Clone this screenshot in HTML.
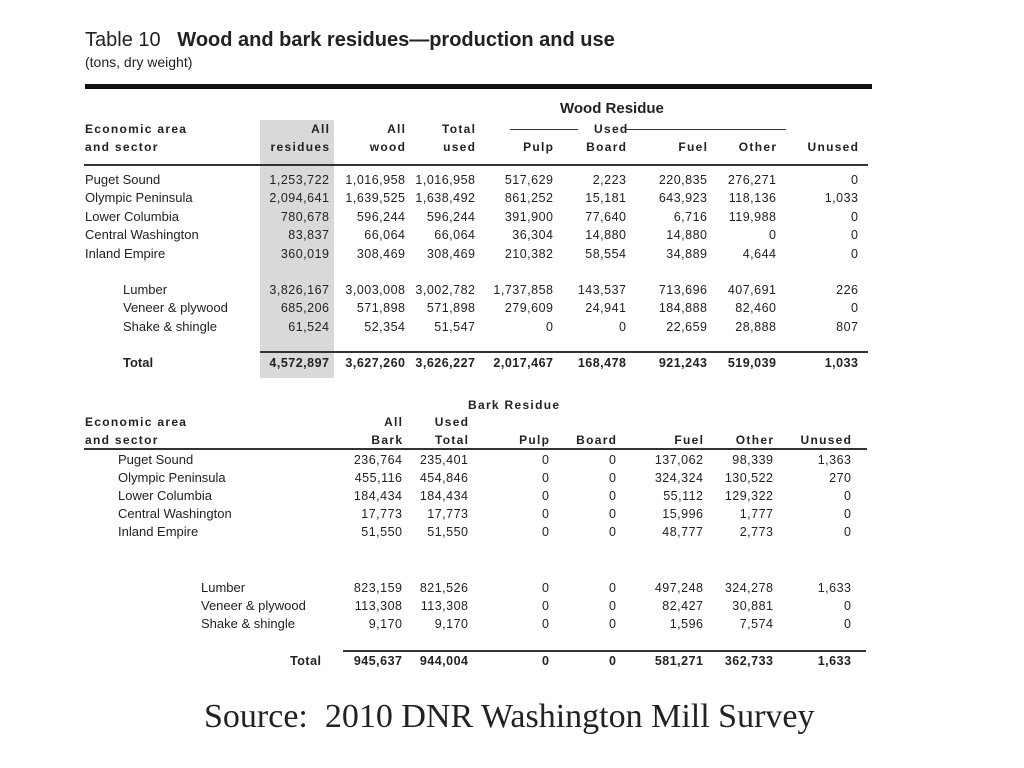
<!DOCTYPE html>
<html><head><meta charset="utf-8"><style>
body{margin:0;width:1024px;height:768px;background:#fff;position:relative;overflow:hidden;font-family:"Liberation Sans",sans-serif;color:#222}
.t{position:absolute;font-size:13px;line-height:18.4px;white-space:nowrap}
.h{position:absolute;font-size:12px;line-height:18px;white-space:nowrap;font-weight:bold;letter-spacing:1.3px}
.hr{position:absolute;font-size:12px;line-height:18px;white-space:nowrap;font-weight:bold;letter-spacing:1.3px;text-align:right;margin-right:-1.3px}
.r{position:absolute;font-size:12.5px;line-height:18.4px;white-space:nowrap;text-align:right;letter-spacing:0.5px;margin-right:-0.5px}
.b{font-weight:bold}
.ln{position:absolute;background:#333}
</style></head><body>
<div class="t" style="left:85px;top:28px;font-size:20px;line-height:24px;">Table 10 &nbsp; <b>Wood and bark residues—production and use</b></div>
<div class="t" style="left:85px;top:53px;font-size:14px;">(tons, dry weight)</div>
<div class="ln" style="left:85px;top:84px;width:787px;height:5px;background:#111"></div>
<div style="position:absolute;left:260px;top:120px;width:74px;height:258px;background:#d9d9d9"></div>
<div class="t b" style="left:560px;top:100px;font-size:15px;">Wood Residue</div>
<div class="h" style="left:85px;top:120px;">Economic area<br>and sector</div>
<div class="ln" style="left:510px;top:129px;width:68px;height:1px"></div>
<div class="h" style="left:594px;top:120px;">Used</div>
<div class="ln" style="left:626px;top:129px;width:160px;height:1px"></div>
<div class="ln" style="left:84px;top:164px;width:784px;height:2px"></div>
<div class="ln" style="left:260px;top:351px;width:608px;height:2px"></div>

<div class="hr" style="right:695px;top:120px">All<br>residues</div>
<div class="hr" style="right:619px;top:120px">All<br>wood</div>
<div class="hr" style="right:549px;top:120px">Total<br>used</div>
<div class="hr" style="right:471px;top:138px">Pulp</div>
<div class="hr" style="right:398px;top:138px">Board</div>
<div class="hr" style="right:317px;top:138px">Fuel</div>
<div class="hr" style="right:248px;top:138px">Other</div>
<div class="hr" style="right:166px;top:138px">Unused</div>

<div class="t" style="left:85px;top:171px">Puget Sound<br>Olympic Peninsula<br>Lower Columbia<br>Central Washington<br>Inland Empire</div>
<div class="t" style="left:123px;top:281px">Lumber<br>Veneer &amp; plywood<br>Shake &amp; shingle</div>
<div class="t b" style="left:123px;top:354px">Total</div>

<div class="r" style="right:695px;top:171px">1,253,722<br>2,094,641<br>780,678<br>83,837<br>360,019</div>
<div class="r" style="right:619px;top:171px">1,016,958<br>1,639,525<br>596,244<br>66,064<br>308,469</div>
<div class="r" style="right:549px;top:171px">1,016,958<br>1,638,492<br>596,244<br>66,064<br>308,469</div>
<div class="r" style="right:471px;top:171px">517,629<br>861,252<br>391,900<br>36,304<br>210,382</div>
<div class="r" style="right:398px;top:171px">2,223<br>15,181<br>77,640<br>14,880<br>58,554</div>
<div class="r" style="right:317px;top:171px">220,835<br>643,923<br>6,716<br>14,880<br>34,889</div>
<div class="r" style="right:248px;top:171px">276,271<br>118,136<br>119,988<br>0<br>4,644</div>
<div class="r" style="right:166px;top:171px">0<br>1,033<br>0<br>0<br>0</div>

<div class="r" style="right:695px;top:281px">3,826,167<br>685,206<br>61,524</div>
<div class="r" style="right:619px;top:281px">3,003,008<br>571,898<br>52,354</div>
<div class="r" style="right:549px;top:281px">3,002,782<br>571,898<br>51,547</div>
<div class="r" style="right:471px;top:281px">1,737,858<br>279,609<br>0</div>
<div class="r" style="right:398px;top:281px">143,537<br>24,941<br>0</div>
<div class="r" style="right:317px;top:281px">713,696<br>184,888<br>22,659</div>
<div class="r" style="right:248px;top:281px">407,691<br>82,460<br>28,888</div>
<div class="r" style="right:166px;top:281px">226<br>0<br>807</div>

<div class="r b" style="right:695px;top:354px">4,572,897</div>
<div class="r b" style="right:619px;top:354px">3,627,260</div>
<div class="r b" style="right:549px;top:354px">3,626,227</div>
<div class="r b" style="right:471px;top:354px">2,017,467</div>
<div class="r b" style="right:398px;top:354px">168,478</div>
<div class="r b" style="right:317px;top:354px">921,243</div>
<div class="r b" style="right:248px;top:354px">519,039</div>
<div class="r b" style="right:166px;top:354px">1,033</div>

<!-- bark -->
<div class="h" style="left:468px;top:396px;">Bark Residue</div>
<div class="h" style="left:85px;top:413px;">Economic area<br>and sector</div>
<div class="hr" style="right:622px;top:413px">All<br>Bark</div>
<div class="hr" style="right:556px;top:413px">Used<br>Total</div>
<div class="hr" style="right:475px;top:431px">Pulp</div>
<div class="hr" style="right:408px;top:431px">Board</div>
<div class="hr" style="right:321px;top:431px">Fuel</div>
<div class="hr" style="right:251px;top:431px">Other</div>
<div class="hr" style="right:173px;top:431px">Unused</div>
<div class="ln" style="left:84px;top:448px;width:783px;height:2px"></div>
<div class="ln" style="left:343px;top:650px;width:523px;height:2px"></div>

<div class="t" style="left:118px;top:451px;line-height:18px">Puget Sound<br>Olympic Peninsula<br>Lower Columbia<br>Central Washington<br>Inland Empire</div>
<div class="t" style="left:201px;top:579px;line-height:18px">Lumber<br>Veneer &amp; plywood<br>Shake &amp; shingle</div>
<div class="r b" style="right:703px;top:652px">Total</div>

<div class="r" style="right:622px;top:451px;line-height:18px">236,764<br>455,116<br>184,434<br>17,773<br>51,550</div>
<div class="r" style="right:556px;top:451px;line-height:18px">235,401<br>454,846<br>184,434<br>17,773<br>51,550</div>
<div class="r" style="right:475px;top:451px;line-height:18px">0<br>0<br>0<br>0<br>0</div>
<div class="r" style="right:408px;top:451px;line-height:18px">0<br>0<br>0<br>0<br>0</div>
<div class="r" style="right:321px;top:451px;line-height:18px">137,062<br>324,324<br>55,112<br>15,996<br>48,777</div>
<div class="r" style="right:251px;top:451px;line-height:18px">98,339<br>130,522<br>129,322<br>1,777<br>2,773</div>
<div class="r" style="right:173px;top:451px;line-height:18px">1,363<br>270<br>0<br>0<br>0</div>

<div class="r" style="right:622px;top:579px;line-height:18px">823,159<br>113,308<br>9,170</div>
<div class="r" style="right:556px;top:579px;line-height:18px">821,526<br>113,308<br>9,170</div>
<div class="r" style="right:475px;top:579px;line-height:18px">0<br>0<br>0</div>
<div class="r" style="right:408px;top:579px;line-height:18px">0<br>0<br>0</div>
<div class="r" style="right:321px;top:579px;line-height:18px">497,248<br>82,427<br>1,596</div>
<div class="r" style="right:251px;top:579px;line-height:18px">324,278<br>30,881<br>7,574</div>
<div class="r" style="right:173px;top:579px;line-height:18px">1,633<br>0<br>0</div>

<div class="r b" style="right:622px;top:652px">945,637</div>
<div class="r b" style="right:556px;top:652px">944,004</div>
<div class="r b" style="right:475px;top:652px">0</div>
<div class="r b" style="right:408px;top:652px">0</div>
<div class="r b" style="right:321px;top:652px">581,271</div>
<div class="r b" style="right:251px;top:652px">362,733</div>
<div class="r b" style="right:173px;top:652px">1,633</div>

<div class="t" style="left:204px;top:697px;font-family:'Liberation Serif',serif;font-size:34px;line-height:40px;">Source:&nbsp; 2010 DNR Washington Mill Survey</div>
</body></html>
